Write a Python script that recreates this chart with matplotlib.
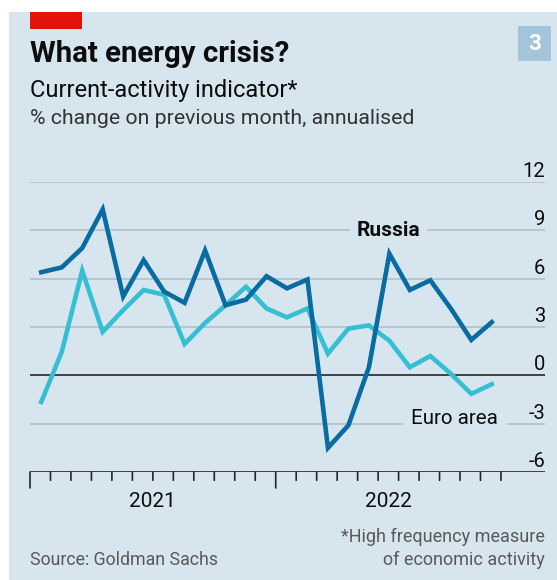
import matplotlib
matplotlib.use("Agg")
import matplotlib.pyplot as plt
from matplotlib.patches import Rectangle

plt.rcParams['font.family'] = ['Roboto', 'DejaVu Sans']

# monthly points, Jan 2021 - Nov 2022 (plotted mid-month)
months = list(range(23))
russia = [6.4, 6.7, 7.9, 10.3, 4.9, 7.15, 5.2, 4.5, 7.75, 4.35, 4.7, 6.15, 5.4, 5.95,
          -4.5, -3.1, 0.5, 7.55, 5.3, 5.9, 4.15, 2.2, 3.3]
euro = [-1.65, 1.45, 6.5, 2.7, 4.05, 5.3, 5.0, 1.95, 3.25, 4.35, 5.5, 4.15, 3.6, 4.15,
        1.35, 2.9, 3.1, 2.15, 0.5, 1.2, 0.1, -1.15, -0.55]
yticks = [-6, -3, 0, 3, 6, 9, 12]
year_labels = ["2021", "2022"]
year_centres = [6, 17.5]

BG = "#d6e5ee"
W, H = 557, 580

fig = plt.figure(figsize=(W / 100, H / 100), dpi=100)
fig.patch.set_facecolor("white")

def fx(px):
    return px / W

def fy(py):
    return 1 - py / H

# background panel, red tag and chart number box
fig.patches.append(Rectangle((fx(9), 0), 1 - fx(9), fy(12), transform=fig.transFigure,
                             facecolor=BG, edgecolor="none", zorder=0))
fig.patches.append(Rectangle((fx(30), fy(29)), fx(82) - fx(30), fy(12) - fy(29),
                             transform=fig.transFigure, facecolor="#e3120b",
                             edgecolor="none", zorder=1))
fig.patches.append(Rectangle((fx(518), fy(61)), fx(551) - fx(518), fy(26) - fy(61),
                             transform=fig.transFigure, facecolor="#a3c5da",
                             edgecolor="none", zorder=1))
fig.text(fx(534.5), fy(44), "3", color="white", fontsize=16, fontweight="bold",
         ha="center", va="center")

fig.text(fx(30), fy(62.5), "What energy crisis?", fontsize=21.2, fontweight="bold",
         color="#0d0d0d", va="baseline")
fig.text(fx(30), fy(97.5), "Current-activity indicator*", fontsize=17,
         color="#0d0d0d", va="baseline")
fig.text(fx(30), fy(124.5), "% change on previous month, annualised", fontsize=15.3,
         color="#333333", va="baseline")

fig.text(fx(30), fy(565), "Source: Goldman Sachs", fontsize=12.8, color="#595959",
         va="baseline")
fig.text(fx(545), fy(542.5), "*High frequency measure", fontsize=13,
         color="#595959", va="baseline", ha="right")
fig.text(fx(545), fy(565), "of economic activity", fontsize=13,
         color="#595959", va="baseline", ha="right")

ax = fig.add_axes([fx(30), fy(472), fx(545) - fx(30), fy(182) - fy(472)])
ax.set_zorder(5)
ax.set_facecolor("none")
ax.set_xlim(0, 25.15)
ax.set_ylim(-6, 12)
for s in ax.spines.values():
    s.set_visible(False)
ax.set_xticks([])
ax.set_yticks([])

for v in yticks:
    if v in (0, -6):
        ax.axhline(v, color="#262626", lw=1.2, zorder=2)
    else:
        ax.axhline(v, color="#b3c0c8", lw=1.2, zorder=1)
    ax.annotate(str(v), xy=(1, v), xycoords=("axes fraction", "data"),
                xytext=(0, 3.5), textcoords="offset points", ha="right",
                va="baseline", fontsize=14.5, color="#0d0d0d")

# month ticks below the axis
for m in range(24):
    long_tick = m in (0, 12)
    ax.annotate("", xy=(m, -6), xycoords="data",
                xytext=(0, -(11.5 if long_tick else 6)), textcoords="offset points",
                arrowprops=dict(arrowstyle="-", color="#262626", lw=1.2,
                                shrinkA=0, shrinkB=0))
for lab, c in zip(year_labels, year_centres):
    ax.annotate(lab, xy=(c, -6), xycoords="data", xytext=(0, -25),
                textcoords="offset points", ha="center", va="baseline",
                fontsize=15, color="#0d0d0d")

x = [m + 0.55 for m in months]
ax.plot(x, euro, color="#36bfd3", lw=3.3, solid_joinstyle="miter", zorder=4)
ax.plot(x, russia, color="#086ca2", lw=3.3, solid_joinstyle="miter", zorder=5)

ax.text(17.5, 9, "Russia", fontsize=15, fontweight="bold", color="#0d0d0d",
        ha="center", va="center", zorder=3,
        bbox=dict(facecolor=BG, edgecolor="none", pad=5))
ax.text(20.75, -3, "Euro area", fontsize=14.8, color="#0d0d0d",
        ha="center", va="baseline", zorder=3,
        bbox=dict(facecolor=BG, edgecolor="none", pad=6))

fig.savefig("out.png", dpi=100, facecolor=fig.get_facecolor())
